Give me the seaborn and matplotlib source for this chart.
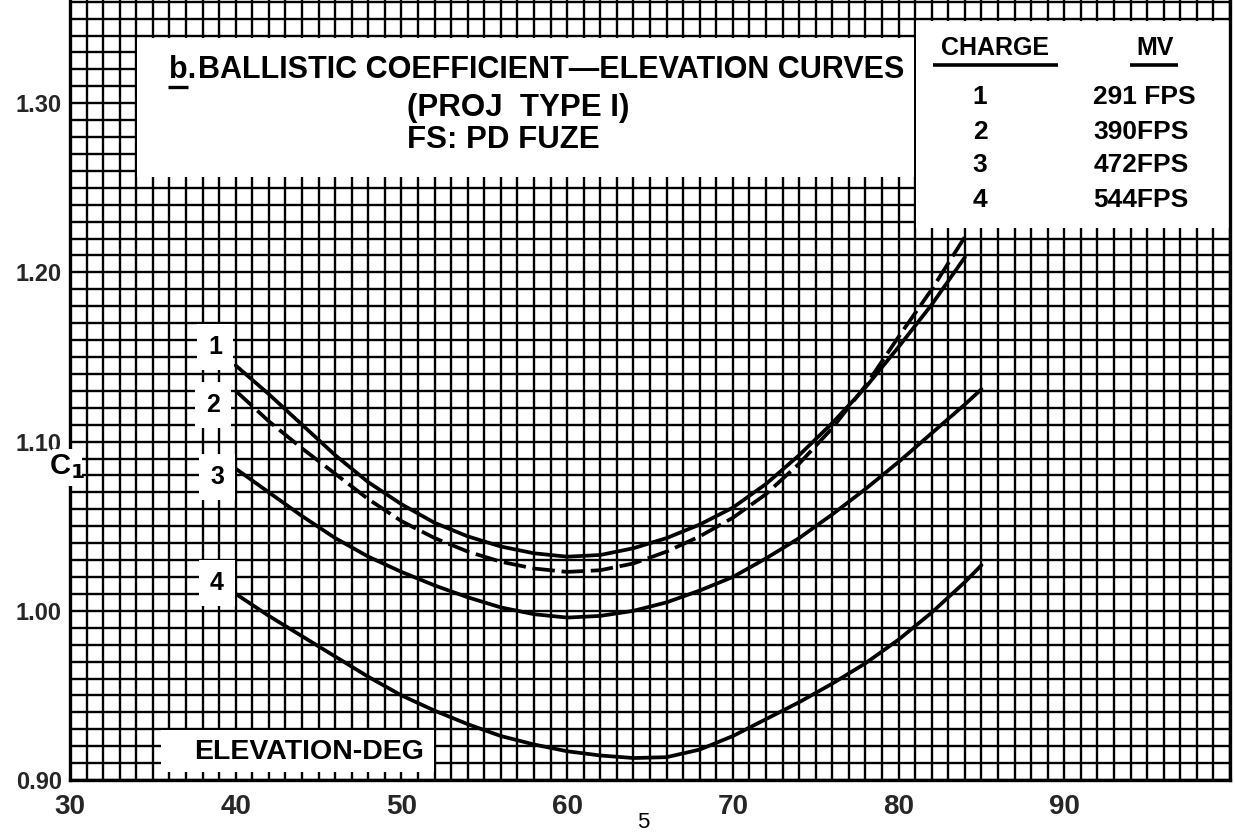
import numpy as np
import pandas as pd
import matplotlib
matplotlib.use("Agg")
import matplotlib.pyplot as plt
import seaborn as sns
from matplotlib.patches import Rectangle

# Elevation (deg) and ballistic coefficient C1 for each charge
elev_12 = [40, 42, 44, 46, 48, 50, 52, 54, 56, 58, 60, 62, 64, 66, 68, 70, 72, 74, 76, 78, 80, 82, 84]
c1_charge1 = [1.145, 1.128, 1.110, 1.092, 1.076, 1.063, 1.052, 1.044, 1.038, 1.034, 1.032, 1.033,
              1.037, 1.043, 1.051, 1.061, 1.075, 1.092, 1.111, 1.132, 1.156, 1.181, 1.209]
c1_charge2 = [1.130, 1.112, 1.096, 1.081, 1.066, 1.053, 1.043, 1.035, 1.029, 1.025, 1.023, 1.024,
              1.028, 1.035, 1.044, 1.055, 1.069, 1.087, 1.108, 1.133, 1.162, 1.190, 1.221]
elev_34 = [40, 42, 44, 46, 48, 50, 52, 54, 56, 58, 60, 62, 64, 66, 68, 70, 72, 74, 76, 78, 80, 82, 84, 85]
c1_charge3 = [1.084, 1.070, 1.056, 1.043, 1.032, 1.023, 1.015, 1.008, 1.002, 0.998, 0.996, 0.997,
              1.000, 1.005, 1.012, 1.020, 1.031, 1.043, 1.057, 1.072, 1.088, 1.105, 1.122, 1.131]
c1_charge4 = [1.010, 0.997, 0.985, 0.973, 0.961, 0.950, 0.941, 0.933, 0.926, 0.921, 0.917, 0.9145,
              0.913, 0.9135, 0.918, 0.926, 0.936, 0.946, 0.957, 0.969, 0.983, 0.999, 1.017, 1.027]

charges = ["1", "2", "3", "4"]
muzzle_velocity = ["291 FPS", "390FPS", "472FPS", "544FPS"]
x_ticks = [30, 40, 50, 60, 70, 80, 90]
x_tick_labels = ["30", "40", "50", "60", "70", "80", "90"]
y_ticks = [0.90, 1.00, 1.10, 1.20, 1.30]
y_tick_labels = ["0.90", "1.00", "1.10", "1.20", "1.30"]

df = pd.concat([
    pd.DataFrame({"elevation": elev_12, "c1": c1_charge1, "charge": "1"}),
    pd.DataFrame({"elevation": elev_12, "c1": c1_charge2, "charge": "2"}),
    pd.DataFrame({"elevation": elev_34, "c1": c1_charge3, "charge": "3"}),
    pd.DataFrame({"elevation": elev_34, "c1": c1_charge4, "charge": "4"}),
], ignore_index=True)

sns.set_style("white")
plt.rcParams["font.family"] = ["Liberation Sans", "DejaVu Sans"]
plt.rcParams["font.weight"] = "bold"

fig = plt.figure(figsize=(12.35, 8.4), dpi=100)
ax = fig.add_axes([0.0567, 0.0714, 0.9393, 0.9286])

sns.lineplot(data=df, x="elevation", y="c1", hue="charge", style="charge",
             palette={c: "black" for c in charges},
             dashes={"1": "", "2": (6, 1.8), "3": "", "4": ""},
             linewidth=2.7, legend=False, sort=False, ax=ax, zorder=3)

ax.set_xlim(30, 100)
ax.set_ylim(0.90, 1.361)
ax.set_xlabel("")
ax.set_ylabel("")

# graph-paper grid: one line per degree and per 0.01
ax.set_xticks(x_ticks)
ax.set_xticklabels(x_tick_labels, fontsize=20, fontweight="bold")
ax.set_xticks(np.arange(30, 101, 1), minor=True)
ax.set_yticks(y_ticks)
ax.set_yticklabels(y_tick_labels, fontsize=17, fontweight="bold")
ax.set_yticks(np.round(np.arange(0.90, 1.3651, 0.01), 2), minor=True)
ax.set_axisbelow(True)
ax.grid(which="both", color="black", linewidth=1.7)
ax.tick_params(which="both", length=0)
ax.tick_params(axis="x", pad=10)
ax.tick_params(axis="y", pad=6)
for side in ["left", "bottom", "right"]:
    ax.spines[side].set_visible(True)
    ax.spines[side].set_color("black")
    ax.spines[side].set_linewidth(2.4)
ax.spines["top"].set_visible(False)

# blank panels on the graph paper
white = dict(facecolor="white", edgecolor="none", zorder=1)
ax.add_patch(Rectangle((34.06, 1.2565), 80.94 - 34.06, 1.3385 - 1.2565, **white))
ax.add_patch(Rectangle((81.06, 1.2265), 100 - 81.06, 1.3485 - 1.2265, **white))
ax.add_patch(Rectangle((35.5, 0.905), 51.94 - 35.5, 0.9293 - 0.905, **white))
ax.add_patch(Rectangle((28.9, 1.0735), 30.75 - 28.9, 1.0955 - 1.0735,
                       facecolor="white", edgecolor="none", zorder=3, clip_on=False))

txt = dict(color="black", fontweight="bold", zorder=5)

# title block
ax.text(36.0, 1.3196, "b.", fontsize=22, ha="left", va="center", **txt)
ax.plot([35.9, 37.1], [1.3095, 1.3095], color="black", lw=2.4, zorder=5, solid_capstyle="butt")
ax.text(37.75, 1.3196, "BALLISTIC COEFFICIENT—ELEVATION CURVES", fontsize=22,
        ha="left", va="center", **txt)
ax.text(50.34, 1.2972, "(PROJ  TYPE I)", fontsize=22.5, ha="left", va="center", **txt)
ax.text(50.34, 1.2783, "FS: PD FUZE", fontsize=22.5, ha="left", va="center", **txt)

# charge / muzzle velocity table
ax.text(85.82, 1.3326, "CHARGE", fontsize=18, ha="center", va="center", **txt)
ax.plot([82.1, 89.6], [1.3226, 1.3226], color="black", lw=2.6, zorder=5, solid_capstyle="butt")
ax.text(95.48, 1.3326, "MV", fontsize=18, ha="center", va="center", **txt)
ax.plot([93.97, 96.87], [1.3226, 1.3226], color="black", lw=2.6, zorder=5, solid_capstyle="butt")
row_y = [1.3037, 1.2830, 1.2635, 1.2428]
for c, mv, yy in zip(charges, muzzle_velocity, row_y):
    ax.text(84.92, yy, c, fontsize=19, ha="center", va="center", **txt)
    ax.text(91.74, yy, mv, fontsize=19, ha="left", va="center", **txt)

# curve numbers at the left ends
label_pos = [(38.75, 1.156), (38.63, 1.1216), (38.87, 1.079), (38.87, 1.0164)]
for c, (lx, ly) in zip(charges, label_pos):
    ax.text(lx, ly, c, fontsize=18, ha="center", va="center",
            bbox=dict(boxstyle="square,pad=0.45", facecolor="white", edgecolor="none"), **txt)

# axis captions
ax.text(44.4, 0.9165, "ELEVATION-DEG", fontsize=20.5, ha="center", va="center", **txt)
ax.text(29.8, 1.0850, r"C$_\mathbf{1}$", fontsize=21, ha="center", va="center",
        clip_on=False, **txt)

fig.text(643 / 1235, 1 - 823 / 840, "5", fontsize=16, fontweight="normal",
         ha="center", va="center", color="black")

fig.savefig("out.png", dpi=100)
